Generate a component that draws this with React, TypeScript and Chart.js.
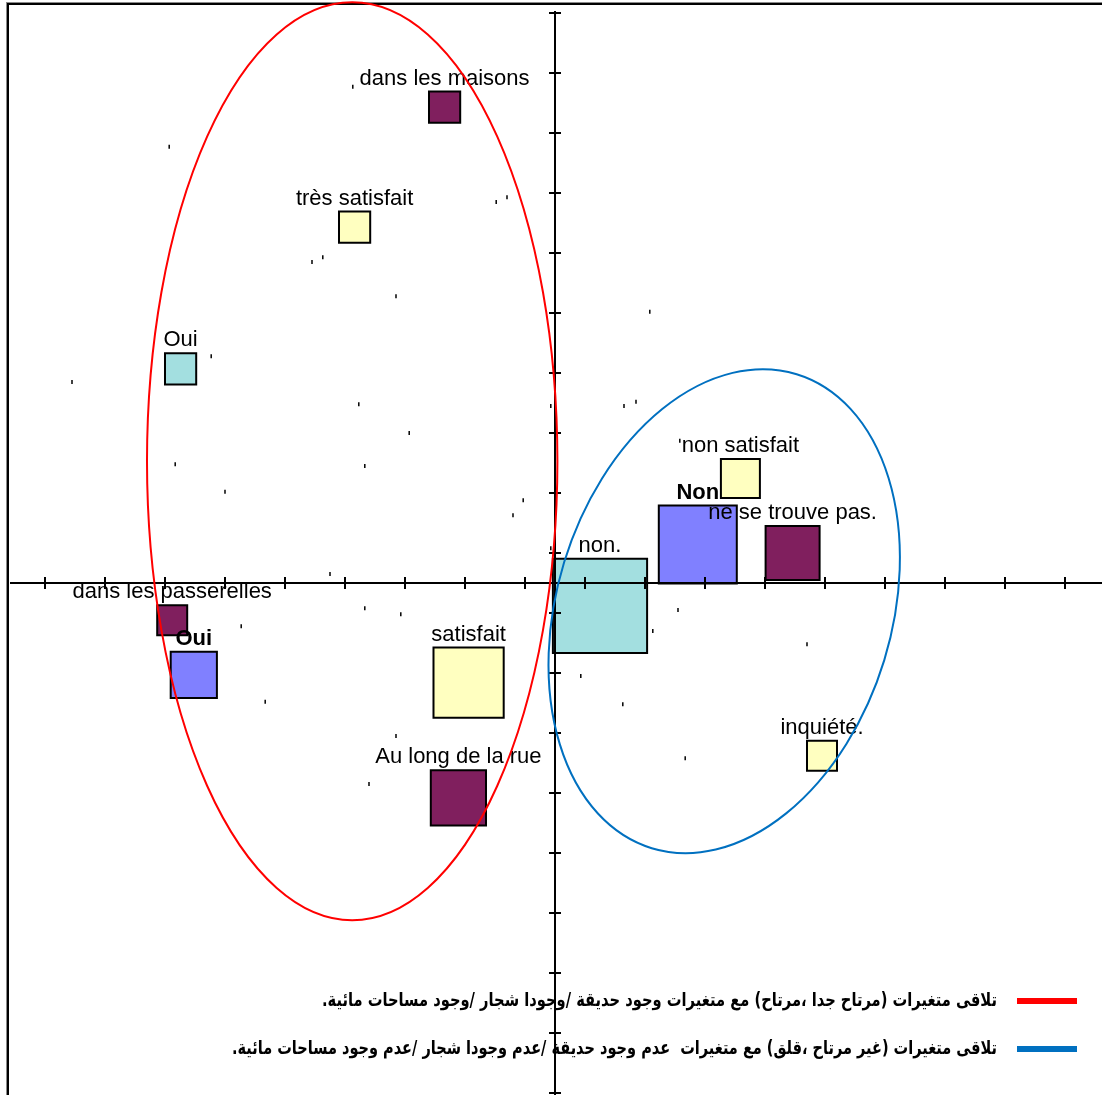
import React, { useEffect, useRef } from "react";
import { Chart, registerables } from "chart.js";

Chart.register(...registerables);

// ---- Data (factor-plane coordinates, 1 unit = one tick interval) ----
// Place of the water/garden spaces (purple)
const placeLabels = ["dans les maisons", "ne se trouve pas.", "dans les passerelles", "Au long de la rue"];
const placeX = [-1.84, 3.96, -6.38, -1.61];
const placeY = [7.93, 0.5, -0.62, -3.58];
const placeMass = [0.52, 0.9, 0.5, 0.92];

// Satisfaction (yellow)
const satisfLabels = ["très satisfait", "non satisfait", "satisfait", "inquiété."];
const satisfX = [-3.34, 3.09, -1.44, 4.45];
const satisfY = [5.93, 1.74, -1.66, -2.88];
const satisfMass = [0.52, 0.65, 1.17, 0.5];

// Garden presence (teal)
const gardenLabels = ["Oui", "non."];
const gardenX = [-6.24, 0.75];
const gardenY = [3.57, -0.38];
const gardenMass = [0.52, 1.57];

// Trees presence (blue, bold labels)
const treesLabels = ["Non", "Oui"];
const treesX = [2.38, -6.02];
const treesY = [0.64, -1.53];
const treesMass = [1.3, 0.77];

// Individuals (small marks)
const indivX = [-3.37, -6.43, -0.98, -0.8, -4.05, -3.87, -2.65, 1.58, -5.73, -8.05, -3.27, -0.07, 1.15, 1.35, -2.43, -6.33, -3.17, -5.5, -0.53, -0.7, -0.07, -3.75, -3.17, -2.57, -5.23, 2.05, 1.63, 4.2, 0.43, -4.83, 1.13, -2.65, 2.17, -3.1, 2.08];
const indivY = [8.27, 7.27, 6.35, 6.43, 5.35, 5.43, 4.78, 4.52, 3.78, 3.35, 2.98, 2.95, 2.95, 3.02, 2.5, 1.98, 1.95, 1.52, 1.38, 1.13, 0.58, 0.15, -0.42, -0.52, -0.72, -0.45, -0.8, -1.02, -1.55, -1.98, -2.02, -2.55, -2.92, -3.35, 2.37];

// Axis ticks
const xTickValues = [-8.5, -7.5, -6.5, -5.5, -4.5, -3.5, -2.5, -1.5, -0.5, 0.5, 1.5, 2.5, 3.5, 4.5, 5.5, 6.5, 7.5, 8.5];
const yTickValues = [-8.5, -7.5, -6.5, -5.5, -4.5, -3.5, -2.5, -1.5, -0.5, 0.5, 1.5, 2.5, 3.5, 4.5, 5.5, 6.5, 7.5, 8.5, 9.5];

// Grouping ellipses: [centerX, centerY, radiusX, radiusY, rotation(deg)]
const redEllipse = [-3.38, 2.03, 3.42, 7.65, 0];
const blueEllipse = [2.82, -0.47, 2.79, 4.13, 17];

const legendTexts = [
  "تلاقى متغيرات (مرتاح جدا ،مرتاح) مع متغيرات وجود حديقة /وجودا شجار /وجود مساحات مائية.",
  "تلاقى متغيرات (غير مرتاح ،قلق) مع متغيرات  عدم وجود حديقة /عدم وجودا شجار /عدم وجود مساحات مائية.",
];
const legendColors = ["#ff0000", "#0070c0"];

const X_MIN = -9.25;
const X_MAX = 9.1167;
const Y_MIN = -8.5333;
const Y_MAX = 9.7167;

function pts(xs: number[], ys: number[]) {
  return xs.map((x, i) => ({ x, y: ys[i] }));
}

function unitPx(chart: any) {
  const s = chart.scales.x;
  return s.getPixelForValue(1) - s.getPixelForValue(0);
}

function squareDataset(labels: string[], xs: number[], ys: number[], masses: number[], color: string, bold: boolean) {
  return {
    label: labels.join(", "),
    data: pts(xs, ys),
    pointLabels: labels,
    masses,
    boldLabels: bold,
    pointStyle: "rect",
    backgroundColor: color,
    borderColor: "#000",
    borderWidth: 2,
    pointRadius: (ctx: any) => (masses[ctx.dataIndex] * unitPx(ctx.chart)) / Math.SQRT2,
    pointHoverRadius: (ctx: any) => (masses[ctx.dataIndex] * unitPx(ctx.chart)) / Math.SQRT2,
    showLine: false,
    clip: false,
  };
}

const overlayPlugin = {
  id: "overlay",
  beforeDatasetsDraw(chart: any) {
    const { ctx, chartArea } = chart;
    ctx.save();
    // frame
    ctx.fillStyle = "#8a8a8a";
    ctx.fillRect(chartArea.left + 6, chartArea.top + 2, 1, chartArea.bottom - chartArea.top);
    ctx.fillRect(chartArea.left + 6, chartArea.top + 2, chartArea.right - chartArea.left, 1);
    ctx.fillStyle = "#000";
    ctx.fillRect(chartArea.left + 7, chartArea.top + 3, 2, chartArea.bottom - chartArea.top);
    ctx.fillRect(chartArea.left + 7, chartArea.top + 3, chartArea.right - chartArea.left, 2);
    ctx.restore();
  },
  afterDatasetsDraw(chart: any) {
    const { ctx, chartArea, scales } = chart;
    const xs = scales.x;
    const ys = scales.y;
    const u = unitPx(chart);
    ctx.save();

    // point labels
    chart.data.datasets.forEach((ds: any, i: number) => {
      if (!ds.pointLabels) return;
      const meta = chart.getDatasetMeta(i);
      ctx.font = `${ds.boldLabels ? "bold " : ""}22px "Liberation Sans", Arial, sans-serif`;
      ctx.textAlign = "center";
      ctx.textBaseline = "middle";
      ctx.fillStyle = "#000";
      meta.data.forEach((el: any, j: number) => {
        const side = ds.masses[j] * u;
        ctx.fillText(ds.pointLabels[j], el.x, el.y - side / 2 - 13);
      });
    });

    // legend
    const lx = chartArea.left + 997;
    legendTexts.forEach((t, i) => {
      const y = chartArea.top + 1001 + i * 48;
      ctx.fillStyle = legendColors[i];
      ctx.fillRect(chartArea.left + 1017, y - 3, 60, 6);
      ctx.font = 'bold 19px "DejaVu Sans", sans-serif';
      (ctx as any).direction = "rtl";
      ctx.textAlign = "right";
      ctx.textBaseline = "middle";
      ctx.fillStyle = "#000";
      const target = i === 0 ? 675 : 765;
      const w = ctx.measureText(t).width;
      ctx.save();
      ctx.translate(lx, y);
      ctx.scale(target / w, 1);
      ctx.fillText(t, 0, 0);
      ctx.restore();
      (ctx as any).direction = "ltr";
    });

    // axes
    const x0 = Math.round(xs.getPixelForValue(0));
    const y0 = Math.round(ys.getPixelForValue(0));
    ctx.fillStyle = "#000";
    ctx.fillRect(chartArea.left + 10, y0 - 1, chartArea.right - chartArea.left - 10, 2);
    ctx.fillRect(x0 - 1, Math.round(ys.getPixelForValue(yTickValues[yTickValues.length - 1])) - 2, 2, chartArea.bottom);
    xTickValues.forEach((v) => {
      const px = Math.round(xs.getPixelForValue(v));
      ctx.fillRect(px - 1, y0 - 6, 2, 12);
    });
    yTickValues.forEach((v) => {
      const py = Math.round(ys.getPixelForValue(v));
      ctx.fillRect(x0 - 6, py - 1, 12, 2);
    });

    // ellipses
    const drawEllipse = (e: number[], color: string) => {
      const cx = xs.getPixelForValue(e[0]);
      const cy = ys.getPixelForValue(e[1]);
      const rx = xs.getPixelForValue(e[0] + e[2]) - cx;
      const ry = ys.getPixelForValue(e[1]) - ys.getPixelForValue(e[1] + e[3]);
      ctx.beginPath();
      ctx.ellipse(cx, cy, rx, ry, (e[4] * Math.PI) / 180, 0, Math.PI * 2);
      ctx.strokeStyle = color;
      ctx.lineWidth = 2;
      ctx.stroke();
    };
    drawEllipse(redEllipse, legendColors[0]);
    drawEllipse(blueEllipse, legendColors[1]);

    ctx.restore();
  },
};

export default function App() {
  const ref = useRef<HTMLCanvasElement | null>(null);

  useEffect(() => {
    document.body.style.margin = "0";
    const canvas = ref.current;
    if (!canvas) return;
    const chart = new Chart(canvas, {
      type: "scatter",
      data: {
        datasets: [
          squareDataset(treesLabels, treesX, treesY, treesMass, "#8080ff", true) as any,
          squareDataset(gardenLabels, gardenX, gardenY, gardenMass, "#a3dfe0", false) as any,
          squareDataset(satisfLabels, satisfX, satisfY, satisfMass, "#ffffc0", false) as any,
          squareDataset(placeLabels, placeX, placeY, placeMass, "#801f5e", false) as any,
          {
            label: "individus",
            data: pts(indivX, indivY),
            pointStyle: "line",
            rotation: 90,
            pointRadius: 2,
            borderWidth: 1.5,
            borderColor: "#000",
            backgroundColor: "#000",
          } as any,
        ],
      },
      options: {
        animation: false,
        responsive: false,
        devicePixelRatio: 1,
        layout: { padding: 0, autoPadding: false },
        plugins: { legend: { display: false }, tooltip: { enabled: false } },
        events: [],
        scales: {
          x: { type: "linear", min: X_MIN, max: X_MAX, display: false },
          y: { type: "linear", min: Y_MIN, max: Y_MAX, display: false },
        },
      },
      plugins: [overlayPlugin],
    });
    return () => chart.destroy();
  }, []);

  return (
    <div style={{ width: 1102, height: 1095, background: "#fff" }}>
      <canvas ref={ref} width={1102} height={1095} style={{ display: "block" }} />
    </div>
  );
}
